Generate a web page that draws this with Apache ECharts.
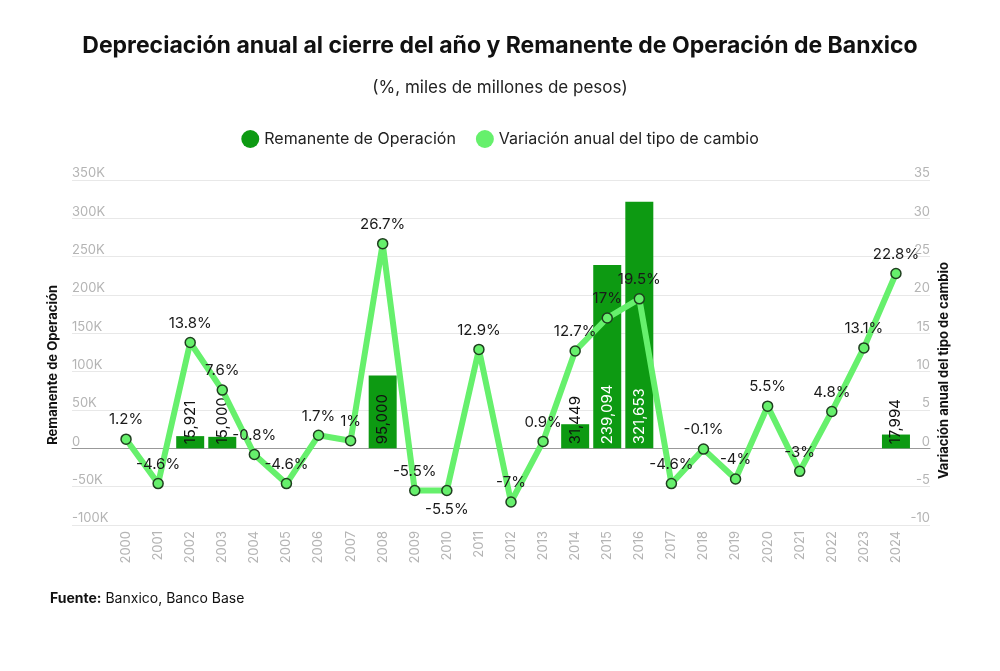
<!DOCTYPE html>
<html>
<head>
<meta charset="utf-8">
<script src="https://cdn.jsdelivr.net/npm/echarts@6/dist/echarts.min.js"></script>
<style>
  html, body { margin: 0; padding: 0; background: #fff; }
  #chart { width: 1000px; height: 671px; }
</style>
</head>
<body>
<div id="chart"></div>
<script>
var years = ['2000','2001','2002','2003','2004','2005','2006','2007','2008','2009','2010','2011','2012',
  '2013','2014','2015','2016','2017','2018','2019','2020','2021','2022','2023','2024'];
// remanente de operación (millones de pesos)
var remanente = [null,null,15921,15000,null,null,null,null,95000,null,null,null,null,
  null,31449,239094,321653,null,null,null,null,null,null,null,17994];
// variación anual del tipo de cambio (%)
var variacion = [1.2,-4.6,13.8,7.6,-0.8,-4.6,1.7,1,26.7,-5.5,-5.5,12.9,-7,
  0.9,12.7,17,19.5,-4.6,-0.1,-4,5.5,-3,4.8,13.1,22.8];

var barColor = '#0d9a12';
var lineColor = '#66f06c';
var font = 'Inter, "Liberation Sans", sans-serif';

var barData = remanente.map(function (v) {
  if (v === null) return null;
  return {
    value: v,
    label: { color: v > 100000 ? '#ffffff' : '#111111' }
  };
});

// la etiqueta de 2010 va debajo del punto
var lineData = variacion.map(function (v, i) {
  if (years[i] === '2010') {
    return { value: v, label: { position: 'bottom' } };
  }
  return v;
});

var option = {
  animation: false,
  textStyle: { fontFamily: font },
  title: [
    {
      text: 'Depreciación anual al cierre del año y Remanente de Operación de Banxico',
      left: 'center', top: 30,
      textStyle: { fontSize: 23, fontWeight: 'bold', color: '#111', fontFamily: font }
    },
    {
      text: '(%, miles de millones de pesos)',
      left: 'center', top: 74,
      textStyle: { fontSize: 17, fontWeight: 'normal', color: '#222', fontFamily: font }
    }
  ],
  legend: {
    top: 125, left: 'center',
    icon: 'circle', itemWidth: 18, itemHeight: 18, itemGap: 20,
    textStyle: { fontSize: 16, color: '#222', fontFamily: font },
    data: [
      { name: 'Remanente de Operación' },
      { name: 'Variación anual del tipo de cambio', itemStyle: { borderWidth: 0 } }
    ]
  },
  grid: [
    { left: 72, right: 70, top: 180, bottom: 146 },
    { left: 110, right: 88, top: 180, bottom: 146 }
  ],
  xAxis: [
    {
      gridIndex: 0, type: 'category', data: years,
      axisLine: { onZero: true, lineStyle: { color: '#999', width: 1 } },
      axisTick: { show: false }, axisLabel: { show: false }, splitLine: { show: false }
    },
    {
      gridIndex: 1, type: 'category', data: years,
      position: 'bottom',
      axisLine: { show: false }, axisTick: { show: false },
      axisLabel: { rotate: 90, color: '#b4b4b4', fontSize: 13, margin: 6 }
    }
  ],
  yAxis: [
    {
      gridIndex: 0, type: 'value', position: 'left',
      min: -100000, max: 350000, interval: 50000,
      axisLine: { show: false }, axisTick: { show: false },
      axisLabel: {
        inside: true, color: '#b4b4b4', fontSize: 13, verticalAlign: 'bottom',
        lineHeight: 13, padding: 0, margin: 0,
        formatter: function (v) { return v === 0 ? '0' : (v / 1000) + 'K'; }
      },
      splitLine: { lineStyle: { color: '#e8e8e8', width: 1 } }
    },
    {
      gridIndex: 0, type: 'value', position: 'right',
      min: -10, max: 35, interval: 5,
      axisLine: { show: false }, axisTick: { show: false },
      axisLabel: {
        inside: true, color: '#b4b4b4', fontSize: 13, verticalAlign: 'bottom',
        lineHeight: 13, padding: 0, margin: 0
      },
      splitLine: { show: false }
    },
    {
      gridIndex: 1, type: 'value', position: 'left',
      min: -100000, max: 350000, interval: 50000, show: false
    },
    {
      gridIndex: 1, type: 'value', position: 'right',
      min: -10, max: 35, interval: 5, show: false
    }
  ],
  series: [
    {
      name: 'Remanente de Operación',
      type: 'bar',
      xAxisIndex: 1, yAxisIndex: 2,
      barWidth: 28,
      itemStyle: { color: barColor },
      label: {
        show: true, position: 'insideBottom', rotate: 90,
        align: 'left', verticalAlign: 'middle', distance: 4,
        fontSize: 15, fontFamily: font,
        formatter: function (p) { return p.value.toLocaleString('en-US'); }
      },
      data: barData,
      z: 2
    },
    {
      name: 'Variación anual del tipo de cambio',
      type: 'line',
      xAxisIndex: 1, yAxisIndex: 3,
      symbol: 'circle', symbolSize: 10,
      lineStyle: { color: lineColor, width: 6 },
      itemStyle: { color: lineColor, borderColor: '#1f3f1f', borderWidth: 1.5 },
      label: {
        show: true, position: 'top', distance: 6,
        fontSize: 15, color: '#1a1a1a', fontFamily: font,
        formatter: '{c}%'
      },
      data: lineData,
      z: 3
    }
  ],
  graphic: [
    {
      type: 'text', left: 47, top: 285, rotation: Math.PI / 2,
      style: { text: 'Remanente de Operación', fontSize: 13, fontWeight: 'bold', fill: '#111', fontFamily: font }
    },
    {
      type: 'text', left: 938, top: 262, rotation: Math.PI / 2,
      style: { text: 'Variación anual del tipo de cambio', fontSize: 13, fontWeight: 'bold', fill: '#111', fontFamily: font }
    },
    {
      type: 'text', left: 50, top: 592,
      style: {
        text: '{b|Fuente:} Banxico, Banco Base',
        fontSize: 14, fill: '#111', fontFamily: font,
        rich: { b: { fontWeight: 'bold', fontSize: 14, fontFamily: font } }
      }
    }
  ]
};

var chart = echarts.init(document.getElementById('chart'));
chart.setOption(option);
window.addEventListener('resize', function () { chart.resize(); });
</script>
</body>
</html>
